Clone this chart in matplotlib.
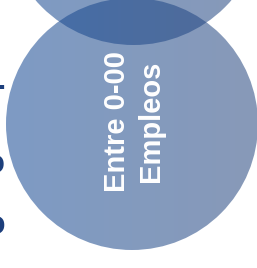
import numpy as np
import matplotlib
matplotlib.use("Agg")
import matplotlib.pyplot as plt
from matplotlib.patches import Circle

# etiquetas
main_label = ["Entre 0-00", "Empleos"]
side_labels = ["Micro -", "Pequeño", "Mediano"]

# colores (izq -> der) del degradado de los círculos
grad_left = np.array([20, 73, 148]) / 255
grad_right = np.array([38, 70, 126]) / 255
circle_alpha = 0.55
navy = "#1d3f7c"

W, H = 257, 268
fig = plt.figure(figsize=(W / 100, H / 100), dpi=100)
ax = fig.add_axes([0, 0, 1, 1])
ax.set_xlim(0, W)
ax.set_ylim(H, 0)
ax.axis("off")

# degradado horizontal
t = np.linspace(0, 1, 256)
grad = (1 - t)[:, None] * grad_left + t[:, None] * grad_right
grad_img = np.tile(grad[None, :, :], (2, 1, 1))


def draw_circle(cx, cy, r):
    im = ax.imshow(grad_img, extent=(cx - r, cx + r, cy + r, cy - r),
                   alpha=circle_alpha, interpolation="bilinear", zorder=2)
    clip = Circle((cx, cy), r, transform=ax.transData)
    im.set_clip_path(clip)


draw_circle(133.5, -84.5, 129.5)
draw_circle(132, 124, 126)
ax.set_xlim(0, W)
ax.set_ylim(H, 0)

ax.text(134, 121, "\n".join(main_label), rotation=90, ha="center", va="center",
        multialignment="center", color="white", fontsize=21, fontweight="bold",
        linespacing=1.3, family=["Liberation Sans", "DejaVu Sans"], zorder=5)

# etiquetas laterales (cortadas por el borde izquierdo)
for lab, y in zip(side_labels, [88, 165, 226]):
    ax.text(6, y, lab, ha="right", va="center", color=navy, fontsize=24,
            fontweight="bold", family=["Liberation Sans", "DejaVu Sans"], zorder=1)

fig.savefig("out.png", dpi=100)
